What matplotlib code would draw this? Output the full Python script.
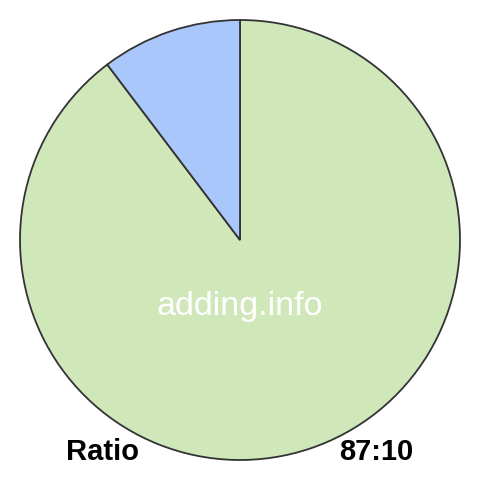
import matplotlib
matplotlib.use("Agg")
import matplotlib.pyplot as plt

labels = ["87", "10"]
values = [87, 10]
colors = ["#cfe7b9", "#a9c7fb"]
title_left = "Ratio"
title_right = "87:10"
watermark = "adding.info"

fig = plt.figure(figsize=(4.8, 4.8), dpi=100)
ax = fig.add_axes([0, 0, 1, 1])

ax.pie(values, colors=colors, startangle=90, counterclock=False,
       center=(240, 240), radius=220, frame=True,
       wedgeprops=dict(edgecolor="#333333", linewidth=1.3))
ax.set_xlim(0, 480)
ax.set_ylim(0, 480)
ax.set_aspect("equal")
ax.axis("off")

ax.text(240, 165, watermark, color="white", fontsize=24.5,
        family="Liberation Sans", ha="center", va="baseline")
ax.text(66, 20, title_left, color="black", fontsize=21, fontweight="bold",
        family="Liberation Sans", ha="left", va="baseline")
ax.text(413, 20, title_right, color="black", fontsize=21, fontweight="bold",
        family="Liberation Sans", ha="right", va="baseline")

fig.savefig("out.png", dpi=100, facecolor="white")
